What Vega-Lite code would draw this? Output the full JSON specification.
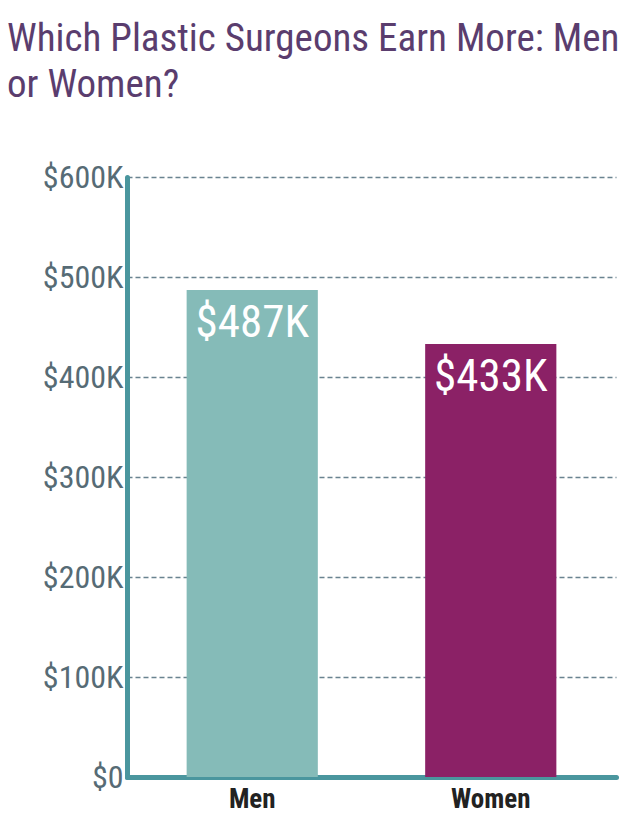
{
  "$schema": "https://vega.github.io/schema/vega-lite/v6.json",
  "autosize": {"type": "none"},
  "width": 489,
  "height": 600,
  "padding": {"left": 127, "top": 177, "right": 24, "bottom": 60},
  "background": "white",
  "title": {
    "text": ["Which Plastic Surgeons Earn More: Men", "or Women?"],
    "anchor": "start",
    "frame": "group",
    "dx": -120,
    "offset": 56,
    "font": "Roboto Condensed, Liberation Sans Narrow, DejaVu Sans Condensed, Roboto",
    "fontSize": 39,
    "fontWeight": "normal",
    "lineHeight": 46,
    "color": "#5a3d6e"
  },
  "data": {
    "values": [
      {"gender": "Men", "earnings": 487, "label": "$487K"},
      {"gender": "Women", "earnings": 433, "label": "$433K"}
    ]
  },
  "config": {
    "view": {"stroke": null},
    "font": "Roboto Condensed, Liberation Sans Narrow, DejaVu Sans Condensed, Roboto"
  },
  "encoding": {
    "x": {
      "field": "gender",
      "type": "nominal",
      "sort": ["Men", "Women"],
      "scale": {"paddingInner": 0.45, "paddingOuter": 0.25},
      "axis": {
        "title": null,
        "labelAngle": 0,
        "labelFontSize": 27,
        "labelFontWeight": "bold",
        "labelColor": "#222222",
        "labelPadding": 9,
        "ticks": false,
        "domainColor": "#4a969e",
        "domainWidth": 5,
        "domainCap": "round"
      }
    }
  },
  "layer": [
    {
      "mark": {"type": "bar"},
      "encoding": {
        "y": {
          "field": "earnings",
          "type": "quantitative",
          "scale": {"domain": [0, 600]},
          "axis": {
            "title": null,
            "values": [0, 100, 200, 300, 400, 500, 600],
            "labelExpr": "datum.value == 0 ? '$0' : '$' + datum.value + 'K'",
            "labelFontSize": 32,
            "labelColor": "#566b75",
            "labelPadding": 4,
            "ticks": false,
            "domainColor": "#4a969e",
            "domainWidth": 5,
            "domainCap": "round",
            "grid": true,
            "gridColor": "#6a8390",
            "gridWidth": 1.4,
            "gridDash": [5, 3]
          }
        },
        "color": {
          "field": "gender",
          "type": "nominal",
          "scale": {"domain": ["Men", "Women"], "range": ["#85bbb8", "#8b2166"]},
          "legend": null
        }
      }
    },
    {
      "mark": {"type": "text", "baseline": "top", "dy": 11, "fontSize": 45, "color": "white"},
      "encoding": {
        "y": {"field": "earnings", "type": "quantitative"},
        "text": {"field": "label"}
      }
    }
  ]
}
